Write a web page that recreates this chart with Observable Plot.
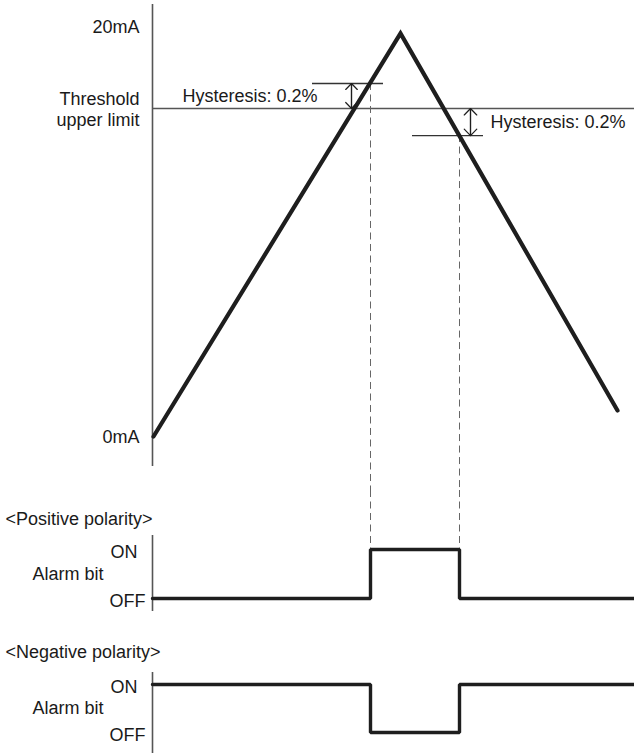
<!DOCTYPE html>
<html><head><meta charset="utf-8">
<script src="https://cdn.jsdelivr.net/npm/d3@7"></script>
<script src="https://cdn.jsdelivr.net/npm/@observablehq/plot@0.6"></script>
<style>
html,body{margin:0;padding:0;background:#fff;}
#chart{width:634px;}
#chart svg{display:block;}
</style></head><body><div id="chart"></div>
<script>
// ---- data ----
const timeDomain = [0, 482];                 // arbitrary time units
const signalTime = [1, 248, 465];
const signalCurrent = [0, 19.66, 1.27];      // mA
const currentAxisRange = [-1.46, 21.07];     // mA, extent of the vertical axis line
const currentTicks = [0, 16, 20];
const currentTickLabels = ["0mA", "Threshold\nupper limit", "20mA"];
const threshold = 16;
const hysteresisUpper = 17.22;
const hysteresisLower = 14.68;
const hysteresisLabels = ["Hysteresis: 0.2%", "Hysteresis: 0.2%"];
const upperBandSpan = [160, 231];
const lowerBandSpan = [260, 331];
const arrowTimes = [199, 318];
const switchTimes = [218, 307];
const stepTimes = [0, 218, 307, 482];
const positiveStates = [0, 1, 0, 0];
const negativeStates = [1, 0, 1, 1];
const stateTicks = [1, 0];
const stateTickLabels = ["ON", "OFF"];
const stateAxisLabel = "Alarm bit";
const panelTitles = ["<Positive polarity>", "<Negative polarity>"];

// ---- style / layout ----
const font = "'Liberation Sans', Arial, Helvetica, sans-serif";
const ink = "#1e1e1e";
const gray = "#555";
const common = {
  width: 634, marginLeft: 152, marginRight: 0, marginTop: 0, marginBottom: 0,
  x: {domain: timeDomain, axis: null},
  style: {fontFamily: font, fontSize: "18px", color: "#1a1a1a", background: "#fff"}
};
const topHeight = 490, topRange = [436, 26];
const posHeight = 135, posRange = [108, 59];
const negHeight = 128, negRange = [107, 59];
// values at the panel edges (so dashed guides run continuously across panels)
const topBottomValue = d3.scaleLinear().domain([0, 20]).range(topRange).invert(topHeight);
const posTopValue = d3.scaleLinear().domain([0, 1]).range(posRange).invert(0);

// ---- top panel ----
const signal = signalTime.map((t, i) => ({t, mA: signalCurrent[i]}));
const arrows = [
  {t: arrowTimes[0], a: threshold, b: hysteresisUpper},
  {t: arrowTimes[1], a: threshold, b: hysteresisLower}
];
const hysLabelData = [
  {t: arrowTimes[0], v: (threshold + hysteresisUpper) / 2, label: hysteresisLabels[0]},
  {t: arrowTimes[1], v: (threshold + hysteresisLower) / 2, label: hysteresisLabels[1]}
];
const arrowOpts = {stroke: ink, strokeWidth: 1.2, headLength: 14, headAngle: 88};
const dashOpts = {stroke: "#666", strokeWidth: 1, strokeDasharray: "7,4.5"};

const topPlot = Plot.plot({
  ...common,
  height: topHeight,
  y: {domain: [0, 20], range: topRange, axis: null},
  marks: [
    Plot.ruleX([0], {y1: currentAxisRange[1], y2: currentAxisRange[0], stroke: gray, strokeWidth: 1.6}),
    Plot.ruleY([threshold], {stroke: gray, strokeWidth: 1.3}),
    Plot.ruleY([hysteresisUpper], {x1: upperBandSpan[0], x2: upperBandSpan[1], stroke: "#333", strokeWidth: 1.3}),
    Plot.ruleY([hysteresisLower], {x1: lowerBandSpan[0], x2: lowerBandSpan[1], stroke: "#333", strokeWidth: 1.3}),
    Plot.ruleX([{t: switchTimes[0], v: hysteresisUpper}, {t: switchTimes[1], v: hysteresisLower}],
      {x: "t", y1: "v", y2: topBottomValue, ...dashOpts}),
    Plot.arrow(arrows, {x1: "t", x2: "t", y1: "a", y2: "b", ...arrowOpts}),
    Plot.arrow(arrows, {x1: "t", x2: "t", y1: "b", y2: "a", ...arrowOpts}),
    Plot.line(signal, {x: "t", y: "mA", stroke: ink, strokeWidth: 4.2, strokeLinejoin: "miter", strokeMiterlimit: 10}),
    Plot.text(currentTicks, {x: 0, y: d => d, text: (d, i) => currentTickLabels[i], textAnchor: "end", dx: -13, lineHeight: 1.17, fontSize: 18}),
    Plot.text(hysLabelData.slice(0, 1), {x: "t", y: "v", text: "label", textAnchor: "end", dx: -34, fontSize: 18}),
    Plot.text(hysLabelData.slice(1), {x: "t", y: "v", text: "label", textAnchor: "start", dx: 20, fontSize: 18})
  ]
});

// ---- alarm panels ----
function alarmPlot(states, title, height, yRange, axisRange, titleY, dashed) {
  const steps = stepTimes.map((t, i) => ({t, s: states[i]}));
  return Plot.plot({
    ...common,
    height,
    y: {domain: [0, 1], range: yRange, axis: null},
    marks: [
      Plot.ruleX([0], {y1: axisRange[1], y2: axisRange[0], stroke: gray, strokeWidth: 1.6}),
      dashed ? Plot.ruleX(switchTimes, {y1: posTopValue, y2: 1, ...dashOpts}) : null,
      Plot.line(steps, {x: "t", y: "s", curve: "step-after", stroke: ink, strokeWidth: 3.4, strokeLinejoin: "miter"}),
      Plot.text([title], {frameAnchor: "top-left", lineAnchor: "middle", dx: -147, dy: titleY, textAnchor: "start", fontSize: 18}),
      Plot.text(stateTicks.slice(0, 1), {x: 0, y: d => d, text: () => stateTickLabels[0], textAnchor: "end", dx: -15, dy: 3, fontSize: 18}),
      Plot.text(stateTicks.slice(1), {x: 0, y: d => d, text: () => stateTickLabels[1], textAnchor: "end", dx: -7, dy: 3, fontSize: 18}),
      Plot.text([0.5], {x: 0, y: d => d, text: () => stateAxisLabel, textAnchor: "end", dx: -49, fontSize: 18})
    ]
  });
}

const posPlot = alarmPlot(positiveStates, panelTitles[0], posHeight, posRange, [-0.265, 1.286], 29, true);
const negPlot = alarmPlot(negativeStates, panelTitles[1], negHeight, negRange, [-0.45, 1.25], 27, false);

const chart = document.getElementById("chart");
chart.append(topPlot, posPlot, negPlot);
</script>
</body></html>
